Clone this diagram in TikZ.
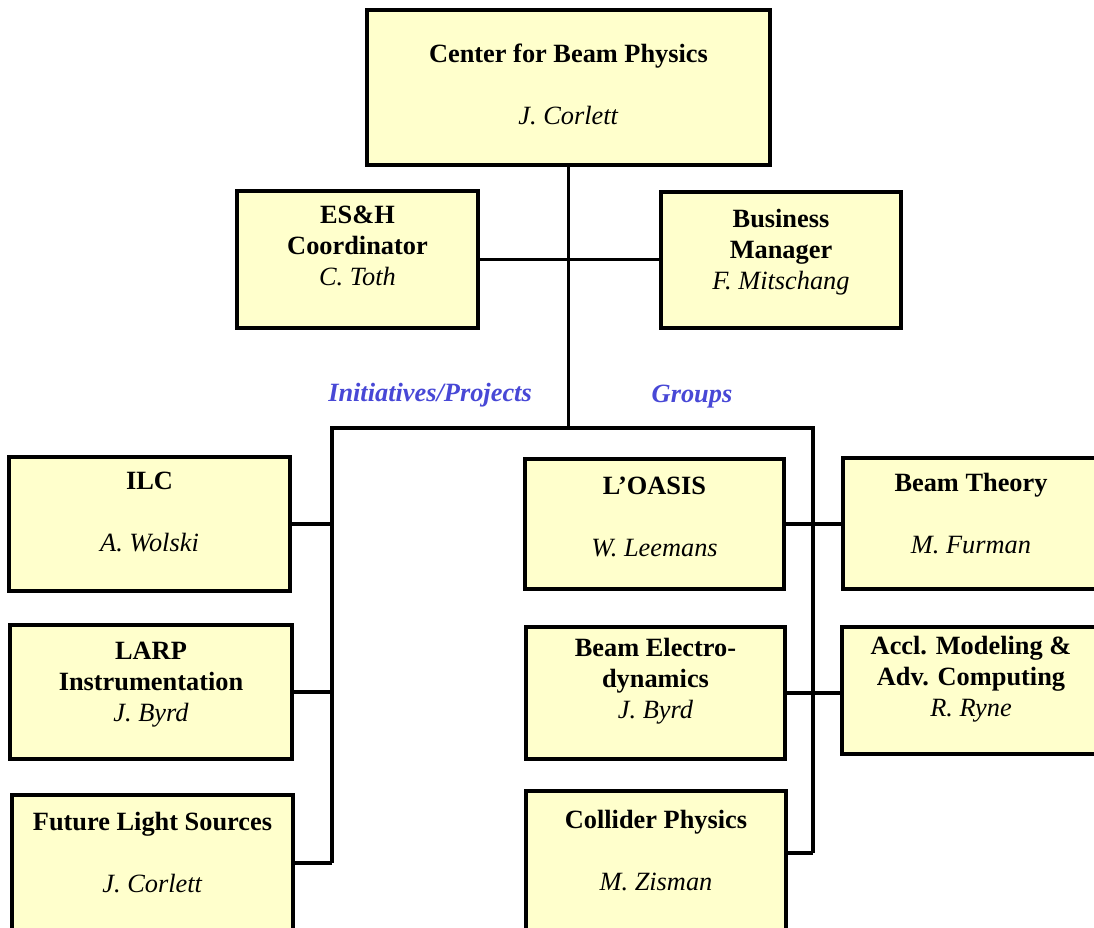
\documentclass[tikz,border=0pt]{standalone}
\usepackage{fontspec}
\setmainfont{Liberation Serif}
\usetikzlibrary{
  fit,
  positioning}
\definecolor{boxfill}{HTML}{FFFFCC}
\definecolor{tagblue}{RGB}{72,72,214}
\tikzset{
  unit/.style={%
    fill=boxfill,
    draw=black,
    line width=2.1pt,
    % The box is fitted to its two corners, so no extra room.
    inner sep=0pt
  },
  unittext/.style={%
    anchor=north,
    inner sep=0pt,
    align=center,
    font=\fontsize{15}{17.5}\selectfont
  },
  tag/.style={%
    text=tagblue,
    font=\fontsize{15}{17.5}\selectfont\bfseries\itshape
  },
  link/.style={%
    line width=2pt
  }%
}

\begin{document}
\begin{tikzpicture}[x=0.02cm,y=-0.02cm]
\useasboundingbox (0,0) rectangle (1094,927);
\clip (0,0) rectangle (1094,927);

% Head of the centre and the two staff boxes under it.
\node[unit, fit={(367,10) (770,165)}] (cbp) {};
\node[unittext] (cbpText) at (568.5,44)
  {\textbf{Center for Beam Physics}\\[17.5pt]\textit{J. Corlett}};
\node[unit, fit={(237,191) (478,328)}] (esh) {};
\node[unittext] (eshText) at (357.5,206)
  {\textbf{ES\&H}\\\textbf{Coordinator}\\\textit{C. Toth}};
\node[unit, fit={(661,192) (901,328)}] (biz) {};
\node[unittext] (bizText) at (781,209)
  {\textbf{Business}\\\textbf{Manager}\\\textit{F. Mitschang}};

% Bus lines for the two columns.
\coordinate (busL) at (332,428);
\coordinate (busR) at (813,428);
\coordinate (busLend) at (332,863);
\coordinate (busRend) at (813,853);

\node[tag] (initTag) at (430,395) {Initiatives/Projects};
\node[tag] (groupTag) at (692,397) {Groups};

% Initiatives/Projects, left column.
\node[unit, fit={(9,457) (290,591)}] (ilc) {};
\node[unittext] (ilcText) at (149.5,472)
  {\textbf{ILC}\\[17.5pt]\textit{A. Wolski}};
\node[unit, fit={(10,625) (292,759)}] (larp) {};
\node[unittext] (larpText) at (151,642)
  {\textbf{LARP}\\\textbf{Instrumentation}\\\textit{J. Byrd}};
\node[unit, fit={(12,795) (293,940)}] (fls) {};
\node[unittext] (flsText) at (152.5,812)
  {\textbf{Future Light Sources}\\[17.5pt]\textit{J. Corlett}};

% Groups, two columns on the right.
\node[unit, fit={(525,459) (784,589)}] (loasis) {};
\node[unittext] (loasisText) at (654.5,477)
  {\textbf{L’OASIS}\\[17.5pt]\textit{W. Leemans}};
\node[unit, fit={(843,458) (1110,589)}] (theory) {};
\node[unittext] (theoryText) at (971,473)
  {\textbf{Beam Theory}\\[17.5pt]\textit{M. Furman}};
\node[unit, fit={(526,627) (785,759)}] (electro) {};
\node[unittext] (electroText) at (655.5,638)
  {\textbf{Beam Electro-}\\\textbf{dynamics}\\\textit{J. Byrd}};
\node[unit, fit={(842,627) (1110,754)}] (accl) {};
\node[unittext] (acclText) at (971,636)
  {\textbf{Accl. Modeling \&}\\\textbf{Adv. Computing}\\\textit{R. Ryne}};
\node[unit, fit={(526,791) (786,940)}] (collider) {};
\node[unittext] (colliderText) at (656,810)
  {\textbf{Collider Physics}\\[17.5pt]\textit{M. Zisman}};

\draw[link] (cbp.south) -- (cbp.south |- busL);
\draw[link] (esh.east) -- (esh.east -| biz.west);
\draw[link] (busLend) -- (busL) -- (busR) -- (busRend);
\draw[link] (ilc.east) -- (ilc.east -| busL);
\draw[link] (larp.east) -- (larp.east -| busL);
\draw[link] (busLend -| fls.east) -- (busLend);
\draw[link] (loasis.east) -- (loasis.east -| theory.west);
\draw[link] (electro.east) -- (electro.east -| accl.west);
\draw[link] (busRend -| collider.east) -- (busRend);

\end{tikzpicture}
\end{document}
